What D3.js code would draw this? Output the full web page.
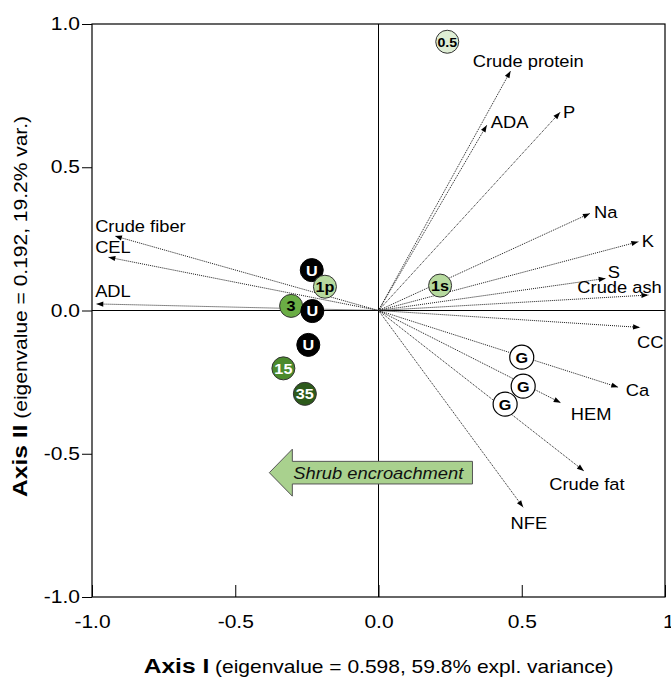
<!DOCTYPE html>
<html>
<head>
<meta charset="utf-8">
<script src="https://cdn.jsdelivr.net/npm/d3@7"></script>
<style>
  body { margin: 0; background: #fff; }
  text { font-family: "Liberation Sans", Arial, sans-serif; }
</style>
</head>
<body>
<div id="pca"></div>
<script>
// ordination axes
var tickValues = [-1.0, -0.5, 0.0, 0.5, 1.0];
var axisITitle = ["Axis I", " (eigenvalue = 0.598, 59.8% expl. variance)"];
var axisIITitle = ["Axis II", " (eigenvalue = 0.192, 19.2% var.)"];

// variable vectors (arrow tips) and where their names sit
var varNames = ["Crude protein", "ADA", "P", "Na", "K", "S", "Crude ash", "CC", "Ca", "HEM", "Crude fat", "NFE", "Crude fiber", "CEL", "ADL"];
var varAxisI = [0.461, 0.378, 0.634, 0.738, 0.907, 0.793, 0.942, 0.913, 0.837, 0.636, 0.717, 0.505, -0.920, -0.943, -0.985];
var varAxisII = [0.836, 0.647, 0.692, 0.339, 0.240, 0.112, 0.054, -0.059, -0.268, -0.322, -0.560, -0.687, 0.260, 0.186, 0.023];
var labelAxisI = [0.329, 0.392, 0.644, 0.752, 0.919, 0.800, 0.694, 0.902, 0.863, 0.671, 0.596, 0.461, -0.989, -0.989, -0.989];
var labelAxisII = [0.851, 0.638, 0.671, 0.322, 0.223, 0.113, 0.060, -0.132, -0.298, -0.382, -0.627, -0.764, 0.274, 0.200, 0.047];

// sample scores
var siteNames = ["0.5", "1s", "U", "1p", "3", "U", "U", "15", "35", "G", "G", "G"];
var siteGroups = ["0.5", "1", "U", "1", "3", "U", "U", "15", "35", "G", "G", "G"];
var siteAxisI = [0.240, 0.215, -0.233, -0.187, -0.305, -0.231, -0.245, -0.332, -0.257, 0.500, 0.505, 0.442];
var siteAxisII = [0.938, 0.087, 0.141, 0.083, 0.016, -0.002, -0.120, -0.202, -0.291, -0.163, -0.264, -0.327];

// the big arrow annotation
var shrubText = "Shrub encroachment";
var shrubAxisI = [0.328, -0.381];   // from, to
var shrubAxisII = -0.566;

var groupFill = {"0.5": "#dfeed5", "1": "#b6da9e", "3": "#6aad45", "15": "#4b8a2d", "35": "#2d5a1b", "U": "#000000", "G": "#ffffff"};
var groupText = {"0.5": "#000", "1": "#000", "3": "#000", "15": "#fff", "35": "#fff", "U": "#fff", "G": "#000"};

var screen = {width: 671, height: 679};
var margins = {top: 24, bottom: 82, left: 92, right: 6};
var graph = {
    width: screen.width - margins.left - margins.right,
    height: screen.height - margins.top - margins.bottom
};

var svg = d3.select("#pca")
    .append("svg")
    .attr("width", screen.width)
    .attr("height", screen.height);

var xScale = d3.scaleLinear().domain([-1, 1]).range([0, graph.width]);
var yScale = d3.scaleLinear().domain([-1, 1]).range([graph.height, 0]);

var g = svg.append("g")
    .attr("transform", "translate(" + margins.left + "," + margins.top + ")");

// arrowhead for the variable vectors
svg.append("defs").append("marker")
    .attr("id", "head")
    .attr("viewBox", "-8 -4 9 8")
    .attr("refX", 0)
    .attr("refY", 0)
    .attr("markerWidth", 9)
    .attr("markerHeight", 8)
    .attr("markerUnits", "userSpaceOnUse")
    .attr("orient", "auto")
    .append("path")
    .attr("d", "M0,0L-7,-2.6L-7,2.6Z")
    .attr("fill", "#000");

// stretched text helper (the original type is a bit wide)
var putText = function(sel, x, y, sx) {
    return sel.attr("transform", "translate(" + x + "," + y + ") scale(" + sx + ",1)");
};

// axes
var fmt = function(d) { return d.toFixed(1); };

var xAxis = g.append("g")
    .attr("transform", "translate(0," + graph.height + ")")
    .call(d3.axisBottom(xScale).tickValues(tickValues).tickFormat(fmt).tickSizeInner(-12).tickSizeOuter(0));
xAxis.select(".domain").remove();
xAxis.selectAll("line").attr("stroke", "#000");
xAxis.selectAll("text")
    .attr("y", 31).attr("dy", null)
    .attr("x", function(d) { return d == 1 ? 10 : 0; })   // last label sits a little right, clipped by the edge
    .attr("font-size", 17.5)
    .attr("font-family", "Liberation Sans, Arial, sans-serif")
    .attr("fill", "#000")
    .attr("transform", "scale(1.2,1)");

var yAxis = g.append("g")
    .call(d3.axisLeft(yScale).tickValues(tickValues).tickFormat(fmt).tickSizeInner(10).tickSizeOuter(0));
yAxis.select(".domain").remove();
yAxis.selectAll("line").attr("stroke", "#000");
yAxis.selectAll("text")
    .attr("x", -10)
    .attr("font-size", 17.5)
    .attr("font-family", "Liberation Sans, Arial, sans-serif")
    .attr("fill", "#000")
    .attr("transform", "scale(1.2,1)");

// frame + zero lines
g.append("rect")
    .attr("width", graph.width)
    .attr("height", graph.height)
    .attr("fill", "none")
    .attr("stroke", "#000")
    .attr("stroke-width", 1.2);
g.append("line")
    .attr("x1", 0).attr("x2", graph.width)
    .attr("y1", yScale(0)).attr("y2", yScale(0))
    .attr("stroke", "#000");
g.append("line")
    .attr("x1", xScale(0)).attr("x2", xScale(0))
    .attr("y1", 0).attr("y2", graph.height)
    .attr("stroke", "#000");

// variable vectors
var vectors = varNames.map(function(name, i) {
    return {name: name, x: varAxisI[i], y: varAxisII[i], lx: labelAxisI[i], ly: labelAxisII[i]};
});

g.selectAll(".vec")
    .data(vectors)
    .enter()
    .append("line")
    .attr("class", "vec")
    .attr("x1", xScale(0))
    .attr("y1", yScale(0))
    .attr("x2", function(d) { return xScale(d.x); })
    .attr("y2", function(d) { return yScale(d.y); })
    .attr("stroke", "#1a1a1a")
    .attr("stroke-width", 1)
    .attr("stroke-dasharray", "1,1")
    .attr("marker-end", "url(#head)");

g.selectAll(".vlab")
    .data(vectors)
    .enter()
    .append("text")
    .attr("class", "vlab")
    .attr("font-size", 16.5)
    .attr("fill", "#000")
    .text(function(d) { return d.name; })
    .each(function(d) {
        putText(d3.select(this), xScale(d.lx), yScale(d.ly), 1.11);
    });

// shrub encroachment arrow
var sx0 = xScale(shrubAxisI[0]);
var sx1 = xScale(shrubAxisI[1]);
var sy = yScale(shrubAxisII);
var headLen = 23, headHalf = 23.5, bodyHalf = 11.3;
var shrub = d3.path();
shrub.moveTo(sx1, sy);
shrub.lineTo(sx1 + headLen, sy - headHalf);
shrub.lineTo(sx1 + headLen, sy - bodyHalf);
shrub.lineTo(sx0, sy - bodyHalf);
shrub.lineTo(sx0, sy + bodyHalf);
shrub.lineTo(sx1 + headLen, sy + bodyHalf);
shrub.lineTo(sx1 + headLen, sy + headHalf);
shrub.closePath();
g.append("path")
    .attr("d", shrub.toString())
    .attr("fill", "#a9d18e")
    .attr("stroke", "#555")
    .attr("stroke-width", 1);
putText(g.append("text")
    .attr("font-size", 16.5)
    .attr("font-style", "italic")
    .attr("fill", "#111")
    .text(shrubText), sx1 + headLen + 1, sy + 6.6, 1.11);

// sample circles
var sites = siteNames.map(function(name, i) {
    return {name: name, group: siteGroups[i], x: siteAxisI[i], y: siteAxisII[i]};
});

var dots = g.selectAll(".site")
    .data(sites)
    .enter()
    .append("g")
    .attr("class", "site")
    .attr("transform", function(d) { return "translate(" + xScale(d.x) + "," + yScale(d.y) + ")"; });

dots.append("circle")
    .attr("r", function(d) { return d.group == "G" ? 12 : 11.5; })
    .attr("fill", function(d) { return groupFill[d.group]; })
    .attr("stroke", function(d) { return d.group == "G" || d.group == "U" ? "#000" : "#333"; })
    .attr("stroke-width", function(d) { return d.group == "G" ? 1.2 : 1; });

dots.append("text")
    .attr("text-anchor", "middle")
    .attr("dy", "0.36em")
    .attr("font-weight", "bold")
    .attr("font-size", function(d) { return d.group == "0.5" ? 13.5 : 15; })
    .attr("fill", function(d) { return groupText[d.group]; })
    .text(function(d) { return d.name; })
    .attr("transform", function(d) { return d.group == "0.5" ? "scale(1.05,1)" : "scale(1.08,1)"; });

// axis titles
var xt = putText(svg.append("text")
    .attr("text-anchor", "middle")
    .attr("fill", "#000"), margins.left + xScale(0), 673, 1.2);
xt.append("tspan").attr("font-weight", "bold").attr("font-size", 20.5).text(axisITitle[0]);
xt.append("tspan").attr("font-size", 17.5).text(axisITitle[1]);

var yt = svg.append("text")
    .attr("text-anchor", "middle")
    .attr("fill", "#000")
    .attr("transform", "translate(27," + (margins.top + yScale(0) - 4) + ") rotate(-90) scale(1.2,1)");
yt.append("tspan").attr("font-weight", "bold").attr("font-size", 20.5).text(axisIITitle[0]);
yt.append("tspan").attr("font-size", 17.5).text(axisIITitle[1]);
</script>
</body>
</html>
